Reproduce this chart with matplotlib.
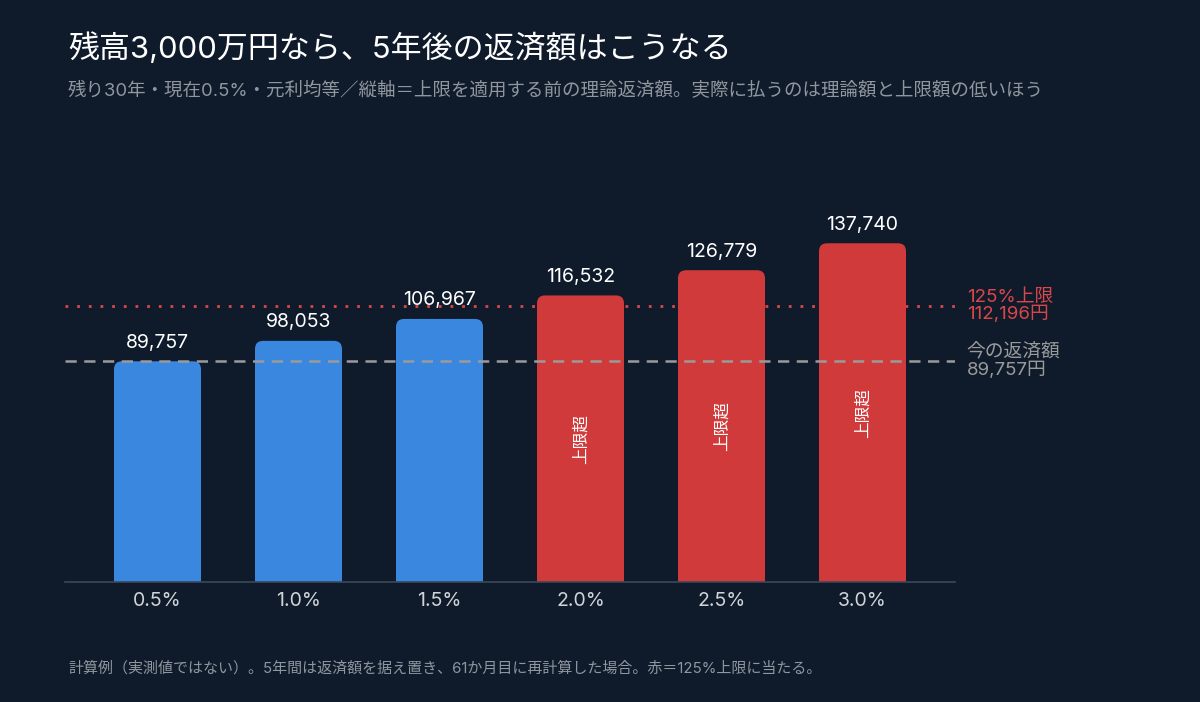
import matplotlib
matplotlib.use("Agg")
import matplotlib.pyplot as plt
from matplotlib.patches import FancyBboxPatch

plt.rcParams['font.family'] = ['Inter', 'Noto Sans CJK JP', 'DejaVu Sans']

categories = ["0.5%", "1.0%", "1.5%", "2.0%", "2.5%", "3.0%"]
values = [89757, 98053, 106967, 116532, 126779, 137740]
cap_value = 112196
current_value = 89757
title = "残高3,000万円なら、5年後の返済額はこうなる"
subtitle = "残り30年・現在0.5%・元利均等／縦軸＝上限を適用する前の理論返済額。実際に払うのは理論額と上限額の低いほう"
footnote = "計算例（実測値ではない）。5年間は返済額を据え置き、61か月目に再計算した場合。赤＝125%上限に当たる。"
cap_label = "125%上限\n112,196円"
current_label = "今の返済額\n89,757円"
over_label = "上限超"

BG = "#0f1b2b"
BLUE = "#3a87e0"
RED = "#d03a3b"
RED_TXT = "#d9474a"
GRAY = "#9a9a9a"

W, H = 1200, 702
fig = plt.figure(figsize=(W / 100, H / 100), dpi=100)
fig.patch.set_facecolor(BG)

left_px, right_px = 65, 955
top_px, bottom_px = 180, 582
ax = fig.add_axes([left_px / W, 1 - bottom_px / H, (right_px - left_px) / W, (bottom_px - top_px) / H])
ax.set_facecolor(BG)

px_per_unit = 118 / (137740 - 89757)
ymax = (bottom_px - top_px) / px_per_unit
ax.set_ylim(0, ymax)
ax.set_xlim(-0.656, 5.656)

x = list(range(len(categories)))
bw = 0.617
colors = [RED if v > cap_value else BLUE for v in values]
bars = ax.bar(x, values, width=bw, color=colors)

px_per_x = 141.0
r_px = 8
rx = r_px / px_per_x
ry = r_px / px_per_unit
for b, c in zip(bars, colors):
    b.set_visible(False)
    bx, bwid, bh = b.get_x(), b.get_width(), b.get_height()
    p = FancyBboxPatch((bx, -ry * 2), bwid, bh + ry * 2,
                       boxstyle=f"round,pad=0,rounding_size={rx}",
                       mutation_aspect=ry / rx, facecolor=c, edgecolor="none",
                       clip_on=True, zorder=2)
    ax.add_patch(p)

for xi, v in zip(x, values):
    ax.annotate(f"{v:,}", (xi, v), xytext=(0, 7), textcoords="offset points",
                ha="center", va="bottom", color="white", fontsize=14, zorder=5)
    if v > cap_value:
        ax.text(xi, v / 2, over_label, rotation=90, ha="center", va="center",
                color="white", fontsize=12, zorder=5)

ax.axhline(cap_value, color=RED_TXT, linestyle=(0, (1, 3.2)), linewidth=2, zorder=1)
ax.axhline(current_value, color=GRAY, linestyle=(0, (4.5, 3)), linewidth=1.8, zorder=3)

ax.text(1.013, cap_value, cap_label, transform=ax.get_yaxis_transform(),
        ha="left", va="center", color=RED_TXT, fontsize=13.5, linespacing=1.0)
ax.text(1.013, current_value, current_label, transform=ax.get_yaxis_transform(),
        ha="left", va="center", color=GRAY, fontsize=13.5, linespacing=1.0)

for s in ["top", "right", "left"]:
    ax.spines[s].set_visible(False)
ax.spines["bottom"].set_color("#3a4858")
ax.spines["bottom"].set_linewidth(1.2)
ax.set_yticks([])
ax.set_xticks(x)
ax.set_xticklabels(categories, color="#d0d4d8", fontsize=14)
ax.tick_params(axis="x", length=0, pad=7)

fig.text(68 / W, 1 - 48 / H, title, ha="left", va="center", color="white", fontsize=22.3)
fig.text(68 / W, 1 - 90 / H, subtitle, ha="left", va="center", color="#8f969e", fontsize=13.3)
fig.text(68 / W, 1 - 668 / H, footnote, ha="left", va="center", color="#8f969e", fontsize=10.8)

fig.savefig("out.png", dpi=100, facecolor=BG)
